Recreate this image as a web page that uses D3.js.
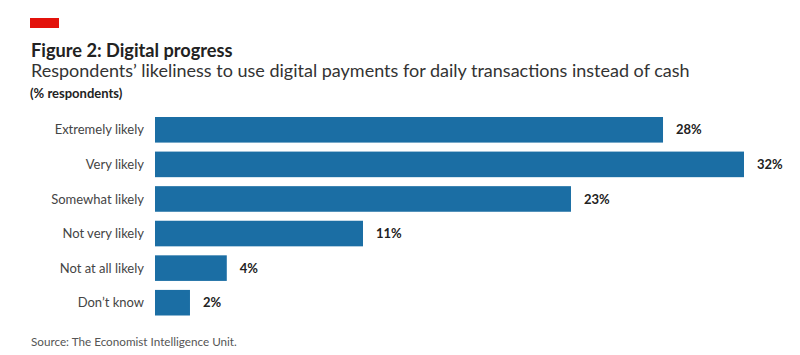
<!DOCTYPE html>
<html><head><meta charset="utf-8">
<script src="https://cdn.jsdelivr.net/npm/d3@7"></script>
<style>body{margin:0;background:#fff;} svg{display:block;font-family:Lato,"Open Sans",sans-serif;}</style>
</head><body>
<svg id="c" width="800" height="355"></svg>
<script>
const categories = ["Extremely likely","Very likely","Somewhat likely","Not very likely","Not at all likely","Don’t know"];
const values = [27.6, 32.0, 22.6, 11.3, 3.9, 1.9];
const valueLabels = ["28%","32%","23%","11%","4%","2%"];

const svg = d3.select("#c");
svg.append("rect").attr("x",30).attr("y",18).attr("width",29).attr("height",10).attr("fill","#e3120b");
svg.append("text").attr("x",31).attr("y",57).attr("font-size",18.2).attr("font-weight",700).attr("fill","#222").text("Figure 2: Digital progress");
svg.append("text").attr("x",31).attr("y",77).attr("font-size",18).attr("fill","#333").text("Respondents’ likeliness to use digital payments for daily transactions instead of cash");
svg.append("text").attr("x",30).attr("y",98).attr("font-size",13).attr("font-weight",700).attr("fill","#222").text("(% respondents)");
svg.append("text").attr("x",31).attr("y",346).attr("font-size",11.7).attr("fill","#555").text("Source: The Economist Intelligence Unit.");

const x = d3.scaleLinear().domain([0,32]).range([155,744]);
const y = d3.scaleBand().domain(categories).range([117,315.5]).paddingInner(0.26).paddingOuter(0);

const g = svg.append("g");
g.selectAll("rect.bar").data(categories).join("rect").attr("class","bar")
  .attr("x",x(0)).attr("y",d=>y(d)).attr("height",y.bandwidth())
  .attr("width",(d,i)=>x(values[i])-x(0)).attr("fill","#1b6ea4");
g.selectAll("text.cat").data(categories).join("text").attr("class","cat")
  .attr("x",144).attr("y",d=>y(d)+y.bandwidth()/2).attr("dy","0.35em")
  .attr("text-anchor","end").attr("font-size",13).attr("fill","#444").text(d=>d);
g.selectAll("text.val").data(categories).join("text").attr("class","val")
  .attr("x",(d,i)=>x(values[i])+13).attr("y",d=>y(d)+y.bandwidth()/2).attr("dy","0.35em")
  .attr("font-size",13).attr("font-weight",700).attr("fill","#222").text((d,i)=>valueLabels[i]);
</script>
</body></html>
